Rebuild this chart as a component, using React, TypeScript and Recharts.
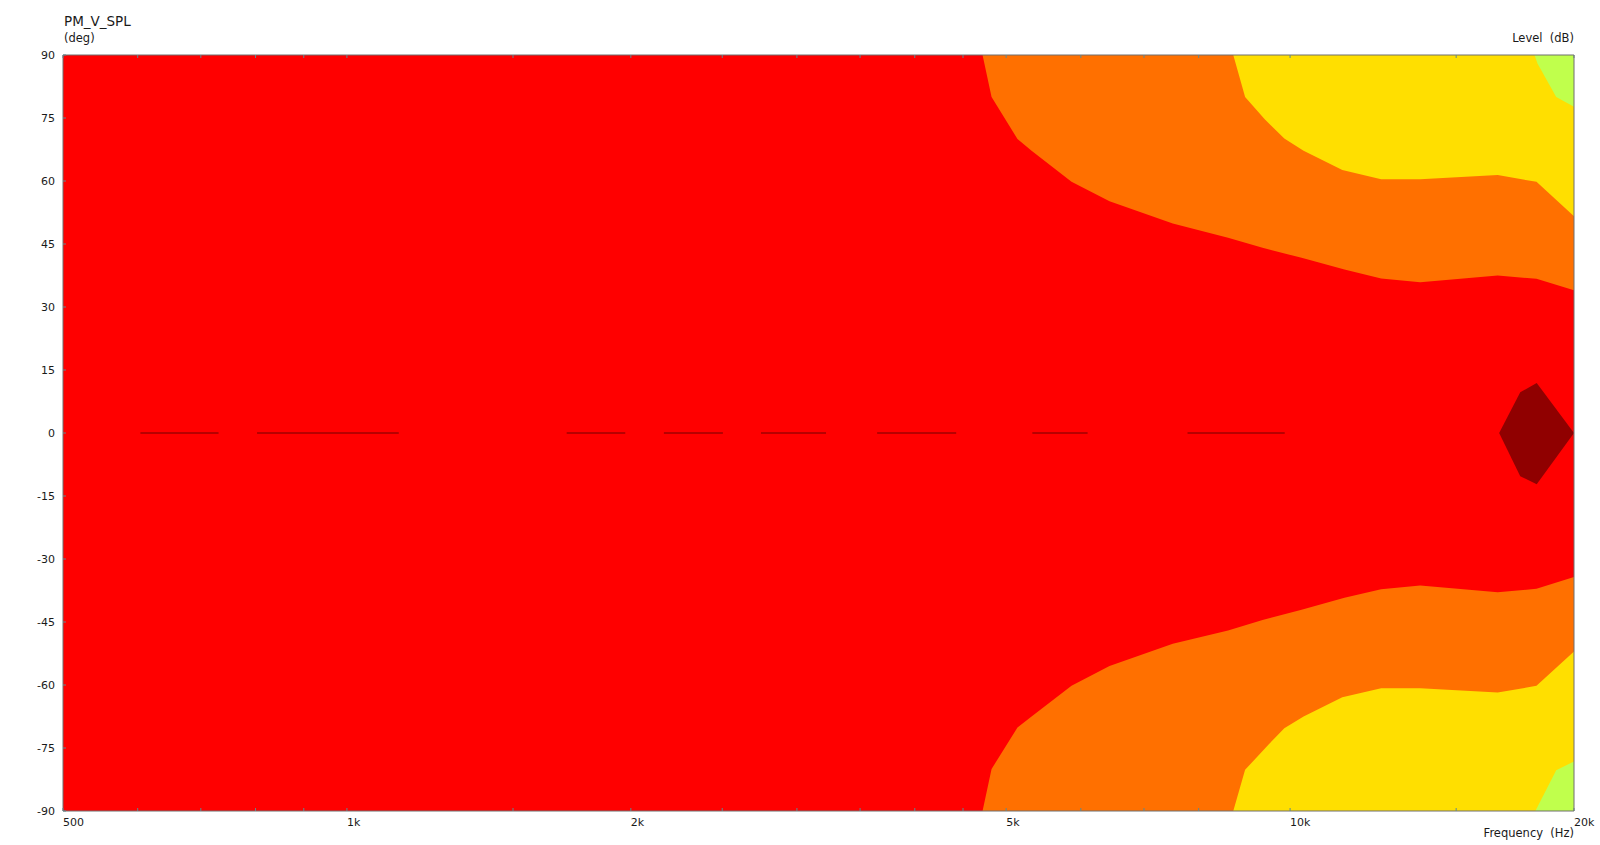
import React from 'react';
import { ComposedChart, Area, Line, XAxis, YAxis } from 'recharts';

// plot frame inside the 1600x845 picture
const WIDTH = 1600;
const HEIGHT = 845;
const PLOT_LEFT = 64;
const PLOT_TOP = 56;
const PLOT_RIGHT = 27;
const PLOT_BOTTOM = 35;
const AXIS_SIZE = 1;

const FONT = "'DejaVu Sans', Verdana, sans-serif";

const freqDomain = [500, 20000];
const freqTicks = [500, 600, 700, 800, 900, 1000, 1500, 2000, 2500, 3000, 3500, 4000, 4500, 5000, 6000, 7000, 8000, 10000, 15000, 20000];
const freqLabels: Record<number, string> = { 500: '500', 1000: '1k', 2000: '2k', 5000: '5k', 10000: '10k', 20000: '20k' };
const angleTicks = [90, 75, 60, 45, 30, 15, 0, -15, -30, -45, -60, -75, -90];

// contour edges (frequency in Hz, angle in deg)
const orangeFreq = [4720, 4825, 5140, 5320, 5865, 6435, 7510, 8595, 9350, 10285, 11420, 12490, 13740, 16600, 18250, 20000];
const orangeTopDeg = [90, 80, 70, 67.2, 59.8, 55.2, 49.9, 46.5, 44.1, 41.7, 38.9, 36.8, 35.9, 37.5, 36.7, 34];
const orangeBotDeg = [-90, -80, -70.1, -67.5, -60.2, -55.5, -50.2, -47, -44.5, -42.1, -39.2, -37.2, -36.3, -37.9, -37.1, -34.3];

const yellowTopFreq = [8705, 8960, 9400, 9860, 10335, 11360, 12490, 13740, 16600, 18250, 20000];
const yellowTopDeg = [90, 80, 74.7, 70.1, 67.2, 62.6, 60.4, 60.4, 61.4, 59.8, 51.6];
const yellowBotFreq = [8705, 8960, 9495, 9860, 10335, 11360, 12490, 13740, 16600, 18250, 20000];
const yellowBotDeg = [-90, -80.2, -74.1, -70.3, -67.5, -62.9, -60.8, -60.8, -61.8, -60.2, -52];

const greenTopFreq = [18160, 18300, 19150, 20000];
const greenTopDeg = [90, 87.9, 80, 77.7];
const greenBotFreq = [18200, 19150, 20000];
const greenBotDeg = [-90, -80.3, -78.2];

const coreFreq = [16660, 17540, 18260, 20000];
const coreLow = [0, -10.3, -12.2, 0];
const coreHigh = [0, 9.7, 11.9, 0];

// short dark dashes along 0 deg
const zeroStart = [604, 803, 1710, 2168, 2748, 3649, 5330, 7785];
const zeroEnd = [731, 1135, 1973, 2504, 3221, 4426, 6100, 9870];

const COLORS = {
  red: '#ff0000',
  orange: '#ff7000',
  yellow: '#ffdf00',
  green: '#c0ff4c',
  core: '#900000',
  dash: '#700000',
  frame: '#6e6e6e',
  tick: '#5f8990',
  text: '#1a1a1a',
};

const upper = (freq: number[], deg: number[]) => freq.map((f, i) => ({ f, range: [deg[i], 90] }));
const lower = (freq: number[], deg: number[]) => freq.map((f, i) => ({ f, range: [-90, deg[i]] }));

const background = freqDomain.map(f => ({ f, range: [-90, 90] }));
const orangeTop = upper(orangeFreq, orangeTopDeg);
const orangeBot = lower(orangeFreq, orangeBotDeg);
const yellowTop = upper(yellowTopFreq, yellowTopDeg);
const yellowBot = lower(yellowBotFreq, yellowBotDeg);
const greenTop = upper(greenTopFreq, greenTopDeg);
const greenBot = lower(greenBotFreq, greenBotDeg);
const core = coreFreq.map((f, i) => ({ f, range: [coreLow[i], coreHigh[i]] }));

const dashes = zeroStart.flatMap((s, i) => [
  { f: s, v: 0 },
  { f: zeroEnd[i], v: 0 },
  { f: zeroEnd[i] + 1, v: null },
]);

const XTick = (props: any) => {
  const label = freqLabels[props.payload.value];
  if (!label) return <g />;
  return (
    <text x={props.payload.coordinate} y={HEIGHT - PLOT_BOTTOM + 12} textAnchor="start" dominantBaseline="central"
      fontFamily={FONT} fontSize={11} fill={COLORS.text}>
      {label}
    </text>
  );
};

const YTick = (props: any) => (
  <text x={PLOT_LEFT - 9} y={props.payload.coordinate} textAnchor="end" dominantBaseline="central"
    fontFamily={FONT} fontSize={11} fill={COLORS.text}>
    {props.payload.value}
  </text>
);

const Empty = () => <g />;

const band = (key: string, data: any[], fill: string) => (
  <Area
    key={key}
    data={data}
    dataKey="range"
    type="linear"
    stroke="none"
    fill={fill}
    fillOpacity={1}
    dot={false}
    activeDot={false}
    isAnimationActive={false}
  />
);

const label = (text: string, style: React.CSSProperties) => (
  <div style={{ position: 'absolute', fontFamily: FONT, color: COLORS.text, whiteSpace: 'pre', lineHeight: 1, ...style }}>
    {text}
  </div>
);

const axisCommon = {
  stroke: COLORS.frame,
  tickLine: { stroke: COLORS.tick },
  tickSize: 3,
  mirror: true,
  interval: 0 as const,
};

export default function App() {
  return (
    <div style={{ position: 'absolute', left: 0, top: 0, width: WIDTH, height: HEIGHT, background: '#fff' }}>
      <ComposedChart
        width={WIDTH}
        height={HEIGHT}
        margin={{
          top: PLOT_TOP - AXIS_SIZE,
          right: PLOT_RIGHT - AXIS_SIZE,
          bottom: PLOT_BOTTOM - AXIS_SIZE,
          left: PLOT_LEFT - AXIS_SIZE,
        }}
      >
        <XAxis
          {...axisCommon}
          dataKey="f"
          type="number"
          scale="log"
          domain={freqDomain}
          allowDataOverflow
          ticks={freqTicks}
          height={AXIS_SIZE}
          tick={XTick}
        />
        <XAxis
          {...axisCommon}
          xAxisId="top"
          orientation="top"
          dataKey="f"
          type="number"
          scale="log"
          domain={freqDomain}
          allowDataOverflow
          ticks={freqTicks}
          height={AXIS_SIZE}
          tick={Empty}
        />
        <YAxis
          {...axisCommon}
          type="number"
          domain={[-90, 90]}
          ticks={angleTicks}
          width={AXIS_SIZE}
          tick={YTick}
        />
        <YAxis
          {...axisCommon}
          yAxisId="right"
          orientation="right"
          type="number"
          domain={[-90, 90]}
          ticks={angleTicks}
          width={AXIS_SIZE}
          tick={Empty}
        />
        {band('bg', background, COLORS.red)}
        {band('orangeTop', orangeTop, COLORS.orange)}
        {band('orangeBot', orangeBot, COLORS.orange)}
        {band('yellowTop', yellowTop, COLORS.yellow)}
        {band('yellowBot', yellowBot, COLORS.yellow)}
        {band('greenTop', greenTop, COLORS.green)}
        {band('greenBot', greenBot, COLORS.green)}
        {band('core', core, COLORS.core)}
        <Line
          data={dashes}
          dataKey="v"
          type="linear"
          stroke={COLORS.dash}
          strokeWidth={1}
          dot={false}
          activeDot={false}
          connectNulls={false}
          isAnimationActive={false}
        />
      </ComposedChart>
      {label('PM_V_SPL', { left: PLOT_LEFT, top: 15, fontSize: 13.5 })}
      {label('(deg)', { left: PLOT_LEFT, top: 33, fontSize: 11.5 })}
      {label('Level  (dB)', { right: PLOT_RIGHT - 1, top: 33, fontSize: 11.5 })}
      {label('Frequency  (Hz)', { right: PLOT_RIGHT - 1, top: 828, fontSize: 11.5 })}
    </div>
  );
}
